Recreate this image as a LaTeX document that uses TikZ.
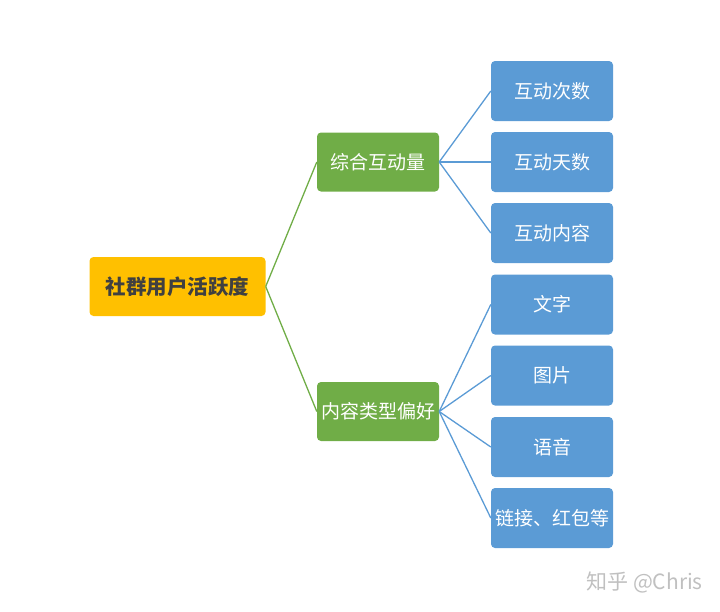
\documentclass[tikz,border=0pt]{standalone}
\usepackage{fontspec}
\setmainfont{Noto Sans CJK SC}
\newfontfamily\cjk{Noto Sans CJK SC}
\definecolor{rootc}{HTML}{FFC000}
\definecolor{midc}{HTML}{70AD47}
\definecolor{leafc}{HTML}{5B9BD5}
\definecolor{roottext}{HTML}{404040}
\definecolor{wm}{HTML}{C0C0C0}
\begin{document}
\begin{tikzpicture}[x=1pt,y=-1pt,
  box/.style={rounded corners=4pt, inner sep=0pt, anchor=center},
  rootbox/.style={box, fill=rootc, minimum width=176pt, minimum height=59pt, text=roottext, font=\cjk\bfseries\fontsize{20.5}{24}\selectfont},
  midbox/.style={box, fill=midc, minimum width=122pt, minimum height=59pt, text=white, font=\cjk\fontsize{19}{22}\selectfont},
  leafbox/.style={box, fill=leafc, minimum width=122pt, minimum height=60pt, text=white, font=\cjk\fontsize{19}{22}\selectfont},
  glink/.style={draw=midc, line width=1.3pt},
  blink/.style={draw=leafc, line width=1.3pt}]
\useasboundingbox (0,0) rectangle (720,611);
\node[rootbox] (root) at (177.5,286.5) {社群用户活跃度};
\node[midbox] (m1) at (378,162) {综合互动量};
\node[midbox] (m2) at (378,411.5) {内容类型偏好};
\node[leafbox] (l1) at (552,91) {互动次数};
\node[leafbox] (l2) at (552,162) {互动天数};
\node[leafbox] (l3) at (552,233) {互动内容};
\node[leafbox] (l4) at (552,304.5) {文字};
\node[leafbox] (l5) at (552,375.5) {图片};
\node[leafbox] (l6) at (552,447) {语音};
\node[leafbox] (l7) at (552,518) {链接、红包等};
\draw[glink] (root.east) -- (m1.west);
\draw[glink] (root.east) -- (m2.west);
\foreach \l in {l1,l2,l3} \draw[blink] (m1.east) -- (\l.west);
\foreach \l in {l4,l5,l6,l7} \draw[blink] (m2.east) -- (\l.west);
\node[text=wm, font=\cjk\fontsize{21}{24}\selectfont, anchor=east, inner sep=0pt] (wmk) at (703,582) {知乎 @Chris};
\end{tikzpicture}
\end{document}
